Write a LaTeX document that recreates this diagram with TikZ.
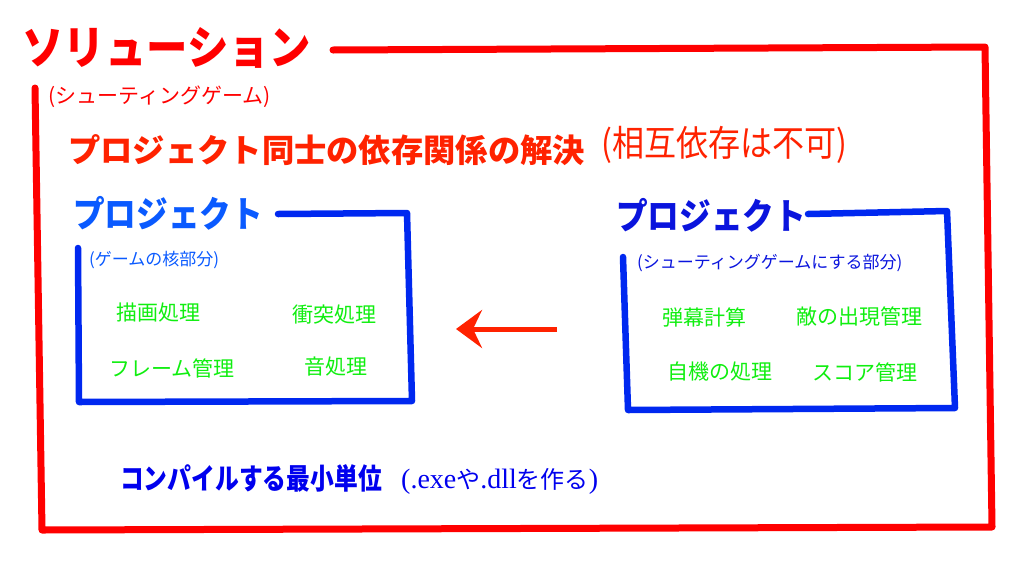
\documentclass[tikz,border=0pt]{standalone}
\usepackage{fontspec}
\usepackage{graphicx}
\usetikzlibrary{arrows.meta}
\newfontfamily\jp{Noto Sans CJK JP}
\newfontfamily\lat{Liberation Serif}
\newcommand{\narrowtext}[2]{\scalebox{#1}[1]{#2}}
\definecolor{solred}{HTML}{FF0000}
\definecolor{depred}{HTML}{FF2200}
\definecolor{coreblue}{HTML}{0A5AFF}
\definecolor{gameblue}{HTML}{0A14DD}
\definecolor{boxblue}{HTML}{0028F0}
\definecolor{unitblue}{HTML}{0000EE}
\definecolor{partgreen}{HTML}{10EE10}
\tikzset{
  every node/.style={inner sep=0pt, anchor=west},
  frame/.style={draw=solred, line width=7pt, line cap=round, line join=round},
  projbox/.style={draw=boxblue, line width=6.5pt, line cap=round, line join=round},
  soltitle/.style={text=solred, font=\jp\bfseries\fontsize{46}{46}\selectfont},
  solsub/.style={text=solred, font=\jp\fontsize{21}{21}\selectfont},
  deptext/.style={text=depred, font=\jp\bfseries\fontsize{32.3}{32}\selectfont},
  depnote/.style={text=depred, font=\jp\fontsize{36}{36}\selectfont},
  projtitle/.style={font=\jp\bfseries\fontsize{36}{36}\selectfont},
  projsub/.style={font=\jp\fontsize{17}{17}\selectfont},
  part/.style={text=partgreen, font=\jp\fontsize{21}{21}\selectfont},
  unittext/.style={text=unitblue, font=\jp\bfseries\fontsize{29}{29}\selectfont},
  unitnote/.style={text=unitblue, font=\jp\fontsize{24}{24}\selectfont},
  deparrow/.style={draw=depred, line width=5pt, -{Stealth[length=26pt, width=38pt, inset=9pt]}}
}

\begin{document}
\begin{tikzpicture}[x=1pt, y=-1pt]
\useasboundingbox (0,0) rectangle (1024,576);
% Solution
    \draw[frame] (333,50) -- (985,47) -- (992,527) -- (42,530) -- (35,88);
    \node[soltitle] (sol) at (22,48) {\narrowtext{0.9}{ソリューション}};
    \node[solsub] (solsub) at (48,97) {(シューティングゲーム)};
    \node[deptext] (dep) at (68,150) {プロジェクト同士の依存関係の解決};
    \node[depnote] (depnote) at (601,145) {\narrowtext{0.89}{(相互依存は不可)}};
% Core project
    \draw[projbox] (278,214) -- (407,213) -- (412,401) -- (79,402) -- (78,248);
    \node[projtitle, text=coreblue] (core) at (73,213) {\narrowtext{0.88}{プロジェクト}};
    \node[projsub, text=coreblue] (coresub) at (89,260) {(ゲームの核部分)};
    \node[part] (render) at (116,313) {描画処理};
    \node[part] (collide) at (292,315) {衝突処理};
    \node[part] (frames) at (109,368) {フレーム管理};
    \node[part] (sound) at (304,367) {音処理};
% Game project
    \draw[projbox] (808,214) -- (947,211) -- (955,408) -- (628,410) -- (623,257);
    \node[projtitle, text=gameblue] (game) at (616,215) {\narrowtext{0.88}{プロジェクト}};
    \node[projsub, text=gameblue] (gamesub) at (637,263) {(シューティングゲームにする部分)};
    \node[part] (bullets) at (662,317) {弾幕計算};
    \node[part] (enemies) at (796,317) {敵の出現管理};
    \node[part] (player) at (667,372) {自機の処理};
    \node[part] (score) at (812,372) {スコア管理};
% Dependency
    \coordinate (depfrom) at (557,329);
    \coordinate (depto) at (456,329);
    \draw[deparrow] (depfrom) -- (depto);
% Build unit
    \node[unittext] (unit) at (120,478) {\narrowtext{0.82}{コンパイルする最小単位}};
    \node[unitnote] (unitnote) at (401,481) {{\lat\fontsize{28}{28}\selectfont(.exe}や{\lat\fontsize{28}{28}\selectfont.dll}を作る{\lat\fontsize{28}{28}\selectfont)}};
\end{tikzpicture}
\end{document}
